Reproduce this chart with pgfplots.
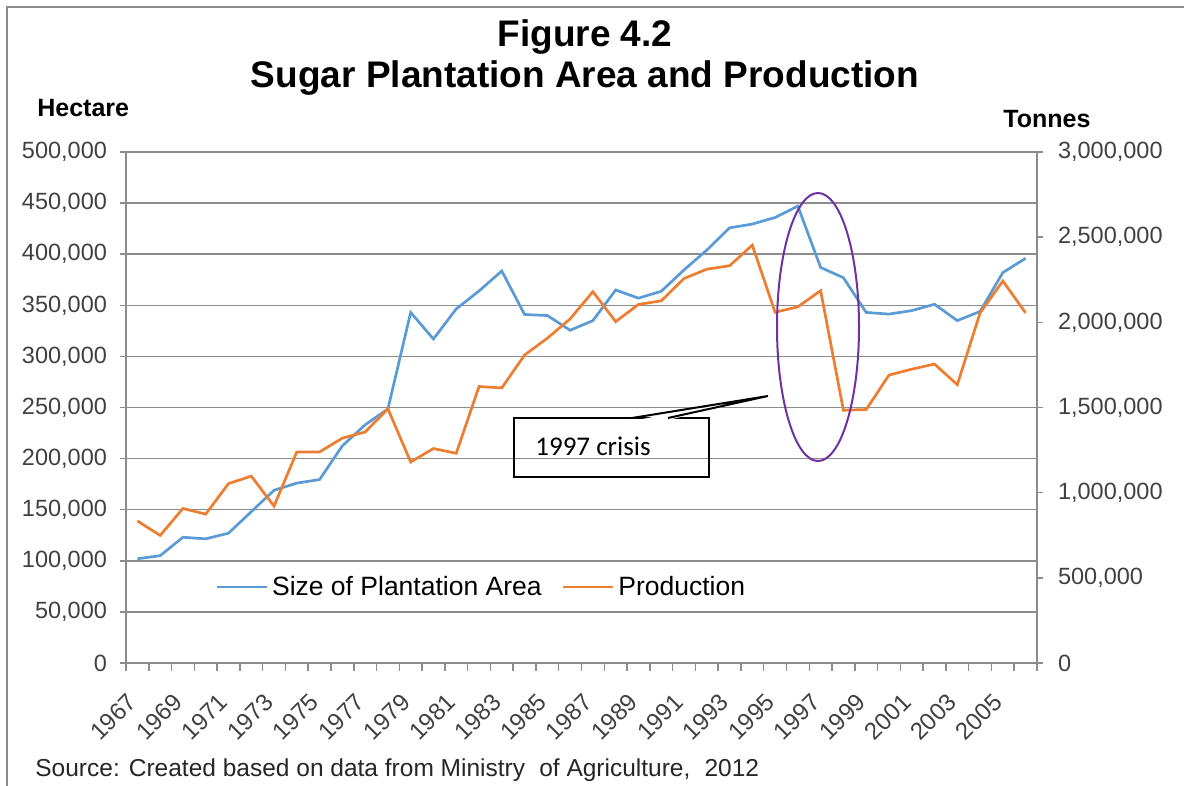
\documentclass[border=0pt]{standalone}
\usepackage{pgfplots}
\pgfplotsset{compat=1.18}
\usepackage{pgfplotstable}
\usepackage{fontspec}
\setmainfont{Liberation Sans}
\newfontfamily\carlito{Carlito}

\definecolor{areablue}{HTML}{5B9BD5}
\definecolor{prodorange}{HTML}{ED7D31}
\definecolor{circpurple}{HTML}{7030A0}
\definecolor{gridgray}{HTML}{8C8C8C}
\definecolor{labelgray}{HTML}{404040}

% hectare
\pgfplotstableread{
year area
1967 102000
1968 105000
1969 123000
1970 121500
1971 127000
1972 148000
1973 169000
1974 176000
1975 179500
1976 212500
1977 233000
1978 248600
1979 343000
1980 317000
1981 346500
1982 364000
1983 383600
1984 341000
1985 340000
1986 325600
1987 335000
1988 365000
1989 357000
1990 363700
1991 384600
1992 404000
1993 425800
1994 429500
1995 435900
1996 447000
1997 387000
1998 377000
1999 343000
2000 341400
2001 344800
2002 351000
2003 335000
2004 344000
2005 382000
2006 396000
}\areatable

% tonnes
\pgfplotstableread{
year prod
1967 834000
1968 749000
1969 907000
1970 874000
1971 1053000
1972 1097000
1973 921000
1974 1239000
1975 1239000
1976 1320000
1977 1356000
1978 1492000
1979 1180000
1980 1259000
1981 1231000
1982 1623000
1983 1615000
1984 1808000
1985 1907000
1986 2020000
1987 2180000
1988 2004000
1989 2105000
1990 2126000
1991 2257000
1992 2312000
1993 2332000
1994 2453000
1995 2059000
1996 2091000
1997 2186000
1998 1484000
1999 1488000
2000 1690000
2001 1725000
2002 1755000
2003 1634000
2004 2055000
2005 2243000
2006 2055000
}\prodtable

\begin{document}
\begin{tikzpicture}
\path[use as bounding box] (0,0) rectangle (592pt,393pt);

\pgfplotsset{
  base/.style={
    scale only axis, width=455.5pt, height=255.5pt,
    at={(63pt,61.5pt)}, anchor=south west,
    xmin=1966.5, xmax=2006.5,
    tick align=outside,
    major tick length=3pt,
    minor tick length=4pt,
    ticklabel style={font=\fontsize{11.75}{12}\selectfont, text=labelgray},
    /pgf/number format/assume math mode=true,
    scaled y ticks=false,
    axis line style={draw=gridgray, line width=0.75pt, -},
    every tick/.style={draw=gridgray, line width=0.75pt},
  }
}

\begin{axis}[base,
  axis x line*=bottom, axis y line*=left,
  ymin=0, ymax=500000,
  ytick={0,50000,100000,150000,200000,250000,300000,350000,400000,450000,500000},
  yticklabel style={xshift=-3pt, /pgf/number format/fixed,
    /pgf/number format/precision=0, /pgf/number format/1000 sep={,}},
  ymajorgrids, grid style={draw=gridgray, line width=0.75pt},
  xtick={1967,1969,...,2005},
  minor xtick={1966.5,1967.5,...,2006.5},
  major x tick style={draw=none},
  xticklabel style={yshift=-12pt, rotate=45, anchor=east,
    font=\fontsize{12}{12}\selectfont, /pgf/number format/1000 sep={}},
]
\addplot[areablue, line width=1.35pt] table[x=year, y=area] {\areatable};
\end{axis}

\begin{axis}[base,
  axis x line=none, axis y line*=right,
  ymin=0, ymax=3000000,
  ytick={0,500000,1000000,1500000,2000000,2500000,3000000},
  yticklabel style={xshift=4pt, /pgf/number format/fixed,
    /pgf/number format/precision=0, /pgf/number format/1000 sep={,}},
  legend columns=2,
  legend style={at={(0.0977,0.1487)}, anchor=west, draw=none, fill=none,
    inner sep=0pt, font=\fontsize{13.25}{14}\selectfont,
    /tikz/every even column/.append style={column sep=8pt}},
  legend image code/.code={\draw[#1] (0pt,0pt) -- (25pt,0pt);},
]
\addlegendimage{areablue, line width=1.35pt}
\addlegendentry{Size of Plantation Area}
\addplot[prodorange, line width=1.35pt] table[x=year, y=prod] {\prodtable};
\addlegendentry{Production}
\end{axis}

% annotations, in pixel units of the reference (y downward)
\begin{scope}[yshift=393pt, x=0.5pt, y=-0.5pt]
  \draw[gridgray, line width=0.75pt] (7,786) -- (7,7) -- (1184,7);
  \node[anchor=base, font=\bfseries\fontsize{18.5}{20}\selectfont, inner sep=0pt]
    at (585,47) {Figure 4.2};
  \node[anchor=base, font=\bfseries\fontsize{18.5}{20}\selectfont, inner sep=0pt]
    at (585,88) {Sugar Plantation Area and Production};
  \node[anchor=base west, font=\bfseries\fontsize{12.5}{14}\selectfont, inner sep=0pt]
    at (37,117) {Hectare};
  \node[anchor=base west, font=\bfseries\fontsize{12.5}{14}\selectfont, inner sep=0pt]
    at (1003,128) {Tonnes};
  \node[anchor=base west, font=\fontsize{12.25}{14}\selectfont, text=black!85, inner sep=0pt]
    at (35,777) {Source: Created based on data from Ministry\hspace{0.3em} of Agriculture,\hspace{0.3em} 2012};
  % callout
  \draw[black, line width=1.3pt] (514,418) rectangle (709,477);
  \fill[white] (634,420.5) -- (768,396) -- (666,420.5) -- cycle;
  \draw[black, line width=1pt, line join=miter] (632,418) -- (768,396) -- (668,418);
  \node[anchor=base west, inner sep=0pt, font=\carlito\fontsize{13.5}{15}\selectfont]
    at (535,456) {1997 crisis};
  % ellipse around 1997
  \draw[circpurple, line width=1pt] (818,327) ellipse [x radius=20.5pt, y radius=67pt];
\end{scope}
\end{tikzpicture}
\end{document}
